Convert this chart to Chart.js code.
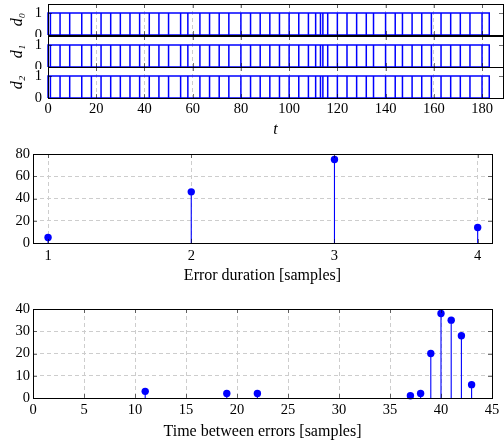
<!DOCTYPE html>
<html><head><meta charset="utf-8">
<script src="https://cdn.jsdelivr.net/npm/chart.js@4.4.1/dist/chart.umd.min.js"></script>
<style>
html,body{margin:0;padding:0;background:#fff;}
#wrap{position:relative;width:504px;height:441px;overflow:hidden;background:#fff;}
canvas{position:absolute;left:0;}
</style></head><body>
<div id="wrap"></div>
<script>
// ---- data ----
const tTicks = [0,20,40,60,80,100,120,140,160,180];
const dTicks = [0,1];
const d0Pulses = [1,5,9,14,18,22,26,30,34,38,42,46,50,55,58,63,67,71,75,80,84,88,92,96,100,104,108,111,113,114,116,120,124,128,132,135,140,144,147,151,155,159,163,167,171,175,180];
const d1Pulses = [1,5,9,14,18,22,26,30,34,38,42,46,50,55,58,63,67,71,75,80,84,88,92,96,100,104,108,111,113,114,116,120,124,128,132,135,140,144,147,151,155,159,163,167,171,175,180];
const d2Pulses = [1,5,9,14,18,22,26,30,34,38,42,46,50,55,58,63,67,71,75,80,84,88,92,96,100,104,108,111,113,114,116,120,124,128,132,135,140,144,147,151,155,159,163,167,171,175,180];
const signalEnd = 183;
const signalNames = ['d\u2080','d\u2081','d\u2082'];

const durationValues = [1,2,3,4];
const durationCounts = [5,46,75,14];
const durationYTicks = [0,20,40,60,80];

const gapValues = [11,19,22,37,38,39,40,41,42,43];
const gapCounts = [3,2,2,1,2,20,38,35,28,6];
const gapXTicks = [0,5,10,15,20,25,30,35,40,45];
const gapYTicks = [0,10,20,30,40];

// ---- style ----
const FAMILY = '"Liberation Serif", "Times New Roman", serif';
const FS = 14.5;
const TFS = 16;
const BLUE = '#0000ff';
const GRID = '#cdcdcd';

const wrap = document.getElementById('wrap');
function makeCanvas(top, height){
  const c = document.createElement('canvas');
  c.width = 504; c.height = height;
  c.style.top = top + 'px'; c.style.width = '504px'; c.style.height = height + 'px';
  wrap.appendChild(c);
  return c;
}

const framePlugin = {
  id: 'frame',
  afterDraw(chart){
    const {ctx, chartArea: a, scales} = chart;
    const L = 4;
    ctx.save();
    ctx.strokeStyle = 'rgba(0,0,0,0.55)';
    ctx.lineWidth = 1;
    ctx.beginPath();
    const xs = scales.x, ys = scales.y;
    xs.ticks.forEach(t => {
      const p = Math.round(xs.getPixelForValue(t.value)) + 0.5;
      ctx.moveTo(p, a.bottom); ctx.lineTo(p, a.bottom - L);
      ctx.moveTo(p, a.top); ctx.lineTo(p, a.top + L);
    });
    ys.ticks.forEach(t => {
      const p = Math.round(ys.getPixelForValue(t.value)) + 0.5;
      ctx.moveTo(a.left, p); ctx.lineTo(a.left + L, p);
      ctx.moveTo(a.right, p); ctx.lineTo(a.right - L, p);
    });
    ctx.stroke();
    ctx.strokeStyle = '#000';
    ctx.lineWidth = 1;
    ctx.strokeRect(Math.round(a.left) + 0.5, Math.round(a.top) + 0.5,
                   Math.round(a.right - a.left), Math.round(a.bottom - a.top));
    ctx.restore();
  }
};

function fixedTicks(arr){ return s => { s.ticks = arr.map(v => ({value: v})); }; }
function fitX(h){ return s => { s.height = h; s.paddingLeft = 0; s.paddingRight = 0; s.paddingTop = 0; s.paddingBottom = 0; }; }
function fitY(w){ return s => { s.width = w; s.paddingLeft = 0; s.paddingRight = 0; s.paddingTop = 0; s.paddingBottom = 0; }; }

function signalPath(pulses, end){
  const pts = [{x:0,y:0},{x:0,y:1}];
  pulses.forEach(t => { pts.push({x:t,y:1},{x:t,y:0},{x:t,y:1}); });
  pts.push({x:end,y:1},{x:end,y:0},{x:0,y:0});
  return pts;
}

function signalChart(canvas, pulses, name, pad, xh, showX){
  return new Chart(canvas, {
    type: 'scatter',
    data: { datasets: [{
      data: signalPath(pulses, signalEnd),
      showLine: true, pointRadius: 0, borderColor: BLUE, borderWidth: 1.5,
      tension: 0, clip: false
    }]},
    options: {
      responsive: false, animation: false, events: [],
      layout: { padding: pad },
      plugins: { legend: {display:false}, tooltip: {enabled:false} },
      scales: {
        x: {
          type: 'linear', min: 0, max: 188.7,
          afterBuildTicks: fixedTicks(tTicks),
          afterFit: fitX(xh),
          ticks: { display: showX, color:'#000', font:{family:FAMILY,size:FS}, padding: 2, maxRotation:0, autoSkip:false },
          grid: { color: GRID, drawTicks:false, lineWidth:1 },
          border: { display:false, dash:[4,3] },
          title: { display: showX, text:'t', color:'#000', font:{family:FAMILY,size:TFS,style:'italic'}, padding:{top:0,bottom:0.5} }
        },
        y: {
          type: 'linear', min: 0, max: 1.409,
          afterBuildTicks: fixedTicks(dTicks),
          afterFit: fitY(48),
          ticks: { color:'#000', font:{family:FAMILY,size:FS}, padding: 6, autoSkip:false },
          grid: { display:false, drawTicks:false },
          border: { display:false },
          title: { display:true, text:name, color:'#000', font:{family:FAMILY,size:TFS,style:'italic'}, padding:{top:8,bottom:0} }
        }
      }
    },
    plugins: [framePlugin]
  });
}

signalChart(makeCanvas(0, 37), d0Pulses, signalNames[0], {top:4,bottom:2,left:0,right:1}, 0, false);
signalChart(makeCanvas(35, 34), d1Pulses, signalNames[1], {top:1,bottom:2,left:0,right:1}, 0, false);
signalChart(makeCanvas(64, 76), d2Pulses, signalNames[2], {top:3,bottom:0,left:0,right:1}, 42, true);

function stemPoints(xs, ys){
  const pts = [];
  xs.forEach((x, i) => { pts.push({x:x,y:0},{x:x,y:ys[i]},{x:x,y:null}); });
  return pts;
}

function stemChart(canvas, xs, ys, xmin, xmax, xTickArr, ymax, yTickArr, title, pad, xh, tickPad, titlePad){
  return new Chart(canvas, {
    type: 'scatter',
    data: { datasets: [
      { data: stemPoints(xs, ys), showLine:true, spanGaps:false, pointRadius:0,
        borderColor: BLUE, borderWidth: 1.1, clip:false },
      { data: xs.map((x,i)=>({x:x,y:ys[i]})), pointRadius: 3.7, pointBackgroundColor: BLUE,
        pointBorderWidth: 0, borderColor: BLUE, showLine:false, clip:false }
    ]},
    options: {
      responsive:false, animation:false, events:[],
      layout: { padding: pad },
      plugins: { legend:{display:false}, tooltip:{enabled:false} },
      scales: {
        x: {
          type:'linear', min:xmin, max:xmax, offset:false,
          afterBuildTicks: fixedTicks(xTickArr),
          afterFit: fitX(xh),
          ticks: { color:'#000', font:{family:FAMILY,size:FS}, padding: tickPad, maxRotation:0, autoSkip:false },
          grid: { color: GRID, drawTicks:false, lineWidth:1, offset:false },
          border: { display:false, dash:[4,3] },
          title: { display:true, text:title, color:'#000', font:{family:FAMILY,size:TFS}, padding:{top:0,bottom:titlePad} }
        },
        y: {
          type:'linear', min:0, max:ymax,
          afterBuildTicks: fixedTicks(yTickArr),
          afterFit: fitY(33),
          ticks: { color:'#000', font:{family:FAMILY,size:FS}, padding: 3, autoSkip:false },
          grid: { color: GRID, drawTicks:false, lineWidth:1 },
          border: { display:false, dash:[4,3] }
        }
      }
    },
    plugins: [framePlugin]
  });
}

stemChart(makeCanvas(146, 144), durationValues, durationCounts, 0.895, 4.1, durationValues,
          80, durationYTicks, 'Error duration [samples]', {top:8,bottom:0,left:0,right:12}, 47, 4, 4.4);
stemChart(makeCanvas(300, 141), gapValues, gapCounts, 0, 45, gapXTicks,
          40, gapYTicks, 'Time between errors [samples]', {top:9,bottom:0,left:0,right:12}, 43, 3, 0);
</script>
</body></html>
